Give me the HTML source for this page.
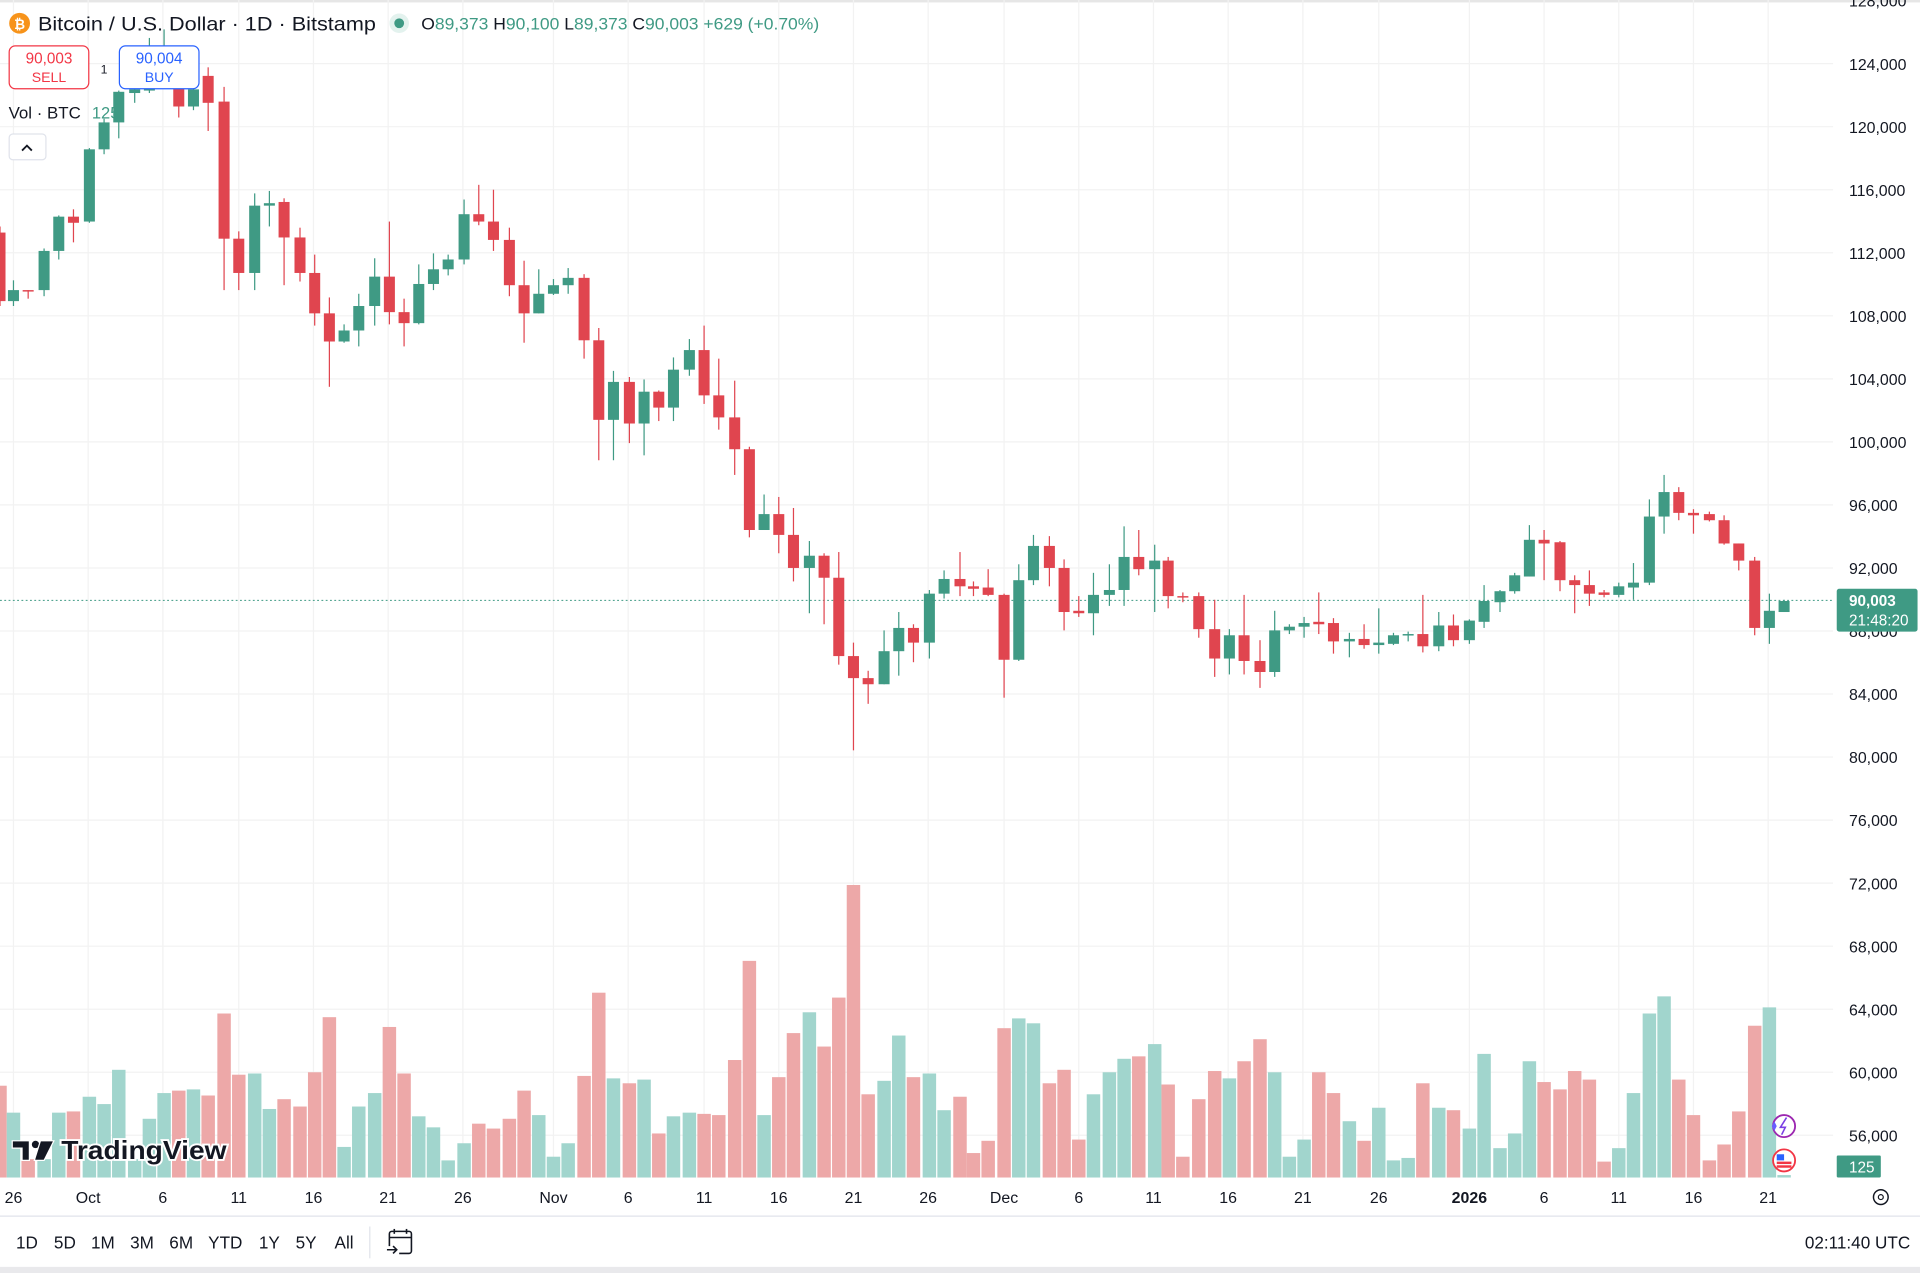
<!DOCTYPE html>
<html><head><meta charset="utf-8">
<style>
html,body{margin:0;padding:0;background:#fff;}
svg{display:block;font-family:"Liberation Sans","DejaVu Sans",sans-serif;}
</style></head>
<body>
<svg id="c" width="1920" height="1273" viewBox="0 0 1568 1040" preserveAspectRatio="none" xmlns="http://www.w3.org/2000/svg">
<rect x="0" y="0" width="1568" height="1040" fill="#fff"/>
<rect x="0" y="0" width="1568" height="2" fill="#e6e6e6"/>
<g id="grid" stroke="#f2f2f2" stroke-width="1"></g>
<g id="vol"></g>
<line x1="0" y1="490.5" x2="1497" y2="490.5" stroke="#3f9a84" stroke-width="0.8" stroke-dasharray="1.5,2"/>
<g id="cand"></g>
<g id="plab" font-size="13" fill="#131722"></g>
<rect x="1500" y="481" width="66" height="35" rx="2" fill="#3f9a84"/>
<text x="1510" y="495" font-size="12.5" font-weight="bold" fill="#fff">90,003</text>
<text x="1510" y="511" font-size="12.5" fill="#fff">21:48:20</text>
<rect x="1500" y="944" width="36" height="18" rx="1" fill="#3f9a84"/>
<text x="1510" y="958" font-size="12.5" fill="#fff">125</text>
<g font-size="13" fill="#131722" text-anchor="middle">
<text x="11" y="983">26</text><text x="72" y="983">Oct</text><text x="133" y="983">6</text><text x="195" y="983">11</text><text x="256" y="983">16</text><text x="317" y="983">21</text><text x="378" y="983">26</text><text x="452" y="983">Nov</text><text x="513" y="983">6</text><text x="575" y="983">11</text><text x="636" y="983">16</text><text x="697" y="983">21</text><text x="758" y="983">26</text><text x="820" y="983">Dec</text><text x="881" y="983">6</text><text x="942" y="983">11</text><text x="1003" y="983">16</text><text x="1064" y="983">21</text><text x="1126" y="983">26</text><text x="1200" y="983" font-weight="bold">2026</text><text x="1261" y="983">6</text><text x="1322" y="983">11</text><text x="1383" y="983">16</text><text x="1444" y="983">21</text>
</g>
<circle cx="1536" cy="978" r="6" fill="none" stroke="#131722" stroke-width="1.2"/>
<circle cx="1536" cy="978" r="2" fill="none" stroke="#131722" stroke-width="1"/>
<line x1="0" y1="993.5" x2="1568" y2="993.5" stroke="#e0e3eb" stroke-width="1"/>
<g font-size="14" fill="#131722" text-anchor="middle">
<text x="22" y="1020">1D</text><text x="53" y="1020">5D</text><text x="84" y="1020">1M</text><text x="116" y="1020">3M</text><text x="148" y="1020">6M</text><text x="184" y="1020">YTD</text><text x="220" y="1020">1Y</text><text x="250" y="1020">5Y</text><text x="281" y="1020">All</text>
</g>
<line x1="302" y1="1002" x2="302" y2="1028" stroke="#e0e3eb"/>
<g fill="none" stroke="#131722" stroke-width="1.3">
<path d="M318 1018 V1008 a2 2 0 0 1 2 -2 H334 a2 2 0 0 1 2 2 V1022 a2 2 0 0 1 -2 2 H326"/>
<line x1="318" y1="1011" x2="336" y2="1011"/><line x1="322" y1="1004" x2="322" y2="1008"/><line x1="332" y1="1004" x2="332" y2="1008"/>
<path d="M316 1021 H324 M321 1018 L324 1021 L321 1024"/>
</g>
<text x="1560" y="1020" font-size="14" fill="#131722" text-anchor="end">02:11:40 UTC</text>
<rect x="0" y="1035" width="1568" height="5" fill="#e9e9ec"/>
<circle cx="16" cy="19" r="8.5" fill="#f7931a"/>
<text x="16" y="23.5" font-size="11" font-weight="bold" fill="#fff" text-anchor="middle">₿</text>
<text x="31" y="25" font-size="16" fill="#131722" textLength="276" lengthAdjust="spacingAndGlyphs">Bitcoin / U.S. Dollar · 1D · Bitstamp</text>
<circle cx="326" cy="19" r="8" fill="#e3f2ee"/><circle cx="326" cy="19" r="4" fill="#3f9a84"/>
<text x="344" y="24" font-size="13.5" fill="#131722" textLength="325" lengthAdjust="spacingAndGlyphs">O<tspan fill="#3f9a84">89,373</tspan> H<tspan fill="#3f9a84">90,100</tspan> L<tspan fill="#3f9a84">89,373</tspan> C<tspan fill="#3f9a84">90,003</tspan> <tspan fill="#3f9a84">+629 (+0.70%)</tspan></text>
<rect x="7.5" y="37.5" width="65" height="35" rx="5" fill="#fff" stroke="#f23645"/>
<text x="40" y="52" font-size="12.5" fill="#f23645" text-anchor="middle">90,003</text>
<text x="40" y="67" font-size="11.5" fill="#f23645" text-anchor="middle">SELL</text>
<text x="85" y="60" font-size="10" fill="#131722" text-anchor="middle">1</text>
<rect x="97.5" y="37.5" width="65" height="35" rx="5" fill="#fff" stroke="#2962ff"/>
<text x="130" y="52" font-size="12.5" fill="#2962ff" text-anchor="middle">90,004</text>
<text x="130" y="67" font-size="11.5" fill="#2962ff" text-anchor="middle">BUY</text>
<text x="7" y="97" font-size="13.5" fill="#131722" textLength="59" lengthAdjust="spacingAndGlyphs">Vol · BTC</text>
<text x="75" y="97" font-size="13.5" fill="#3f9a84">125</text>
<rect x="7.5" y="109.5" width="30" height="21" rx="3" fill="#fff" stroke="#e0e3eb"/>
<path d="M18 123 L22 119 L26 123" fill="none" stroke="#131722" stroke-width="1.5"/>
<g>
<path d="M10 932 H24 V948 H18 V938 H10 Z" fill="#131722" stroke="#fff" stroke-width="1"/>
<circle cx="29" cy="935" r="3" fill="#131722"/>
<path d="M33 932 H44 L36 948 H28 Z" fill="#131722" stroke="#fff" stroke-width="1"/>
<text x="50" y="947" font-size="21" font-weight="bold" fill="#131722" stroke="#fff" stroke-width="3" paint-order="stroke" textLength="135" lengthAdjust="spacingAndGlyphs">TradingView</text>
</g>
<circle cx="1457" cy="920" r="9" fill="#fff" stroke="#9c27b0" stroke-width="1.5"/>
<path d="M1459 913 L1454 921 H1458 L1455 927" fill="none" stroke="#7b3fe4" stroke-width="1.3"/>
<path d="M1447 920 l2 -4 l2 4 l-2 4 z" fill="#6a5cff"/>
<circle cx="1457" cy="948" r="9" fill="#fff" stroke="#f23645" stroke-width="1.5"/>
<rect x="1451" y="943" width="6" height="5" fill="#2962ff"/><rect x="1451" y="949" width="12" height="2" fill="#f23645"/><rect x="1451" y="952" width="12" height="2" fill="#f23645"/>
</svg>
<script>
var NS="http://www.w3.org/2000/svg";
function el(p,t,a){var e=document.createElementNS(NS,t);for(var k in a)e.setAttribute(k,a[k]);p.appendChild(e);return e;}
var grid=document.getElementById('grid');
[11,72,133,195,256,317,378,452,513,575,636,697,758,820,881,942,1003,1064,1126,1200,1261,1322,1383,1444].forEach(function(x){el(grid,'line',{x1:x,y1:0,x2:x,y2:962});});
var pl=document.getElementById('plab');
for(var i=0;i<19;i++){var p=128-4*i;var y=52+(124-p)*12.875;if(y>2)el(grid,'line',{x1:0,y1:y,x2:1497,y2:y});
 var t=el(pl,'text',{x:1510,y:y+5});t.textContent=p+',000';}
var D=[[0,'r',190,246,185,250,887],[11,'g',237,246,229,250,909],[23,'r',237,238,237,244,947],[36,'g',205,237,203,242,947],[48,'g',177,205,176,212,909],[60,'r',177,182,171,198,908],[73,'g',122,181,121,182,896],[85,'g',100,122,97,126,902],[97,'g',75,100,74,113,874],[110,'g',73,76,70,84,947],[122,'g',66,74,31,76,914],[134,'g',45,68,24,72,893],[146,'r',70,87,68,96,891],[158,'g',73,87,72,90,890],[170,'r',62,84,55,107,895],[183,'r',83,195,71,237,828],[195,'r',195,223,189,237,878],[208,'g',168,223,158,237,877],[220,'g',166,168,156,185,906],[232,'r',165,194,162,233,898],[245,'r',194,223,186,230,904],[257,'r',223,256,208,266,876],[269,'r',256,279,243,316,831],[281,'g',270,279,265,280,937],[293,'g',250,270,240,283,904],[306,'g',226,250,211,266,893],[318,'r',226,255,181,265,839],[330,'r',255,264,244,283,877],[342,'g',232,264,216,265,912],[354,'g',220,232,207,237,921],[366,'g',212,220,208,225,948],[379,'g',175,212,163,216,934],[391,'r',175,181,151,184,918],[403,'r',181,196,155,205,922],[416,'r',196,233,186,242,914],[428,'r',233,256,213,280,891],[440,'g',240,256,220,256,911],[452,'g',233,240,228,241,945],[464,'g',227,233,219,240,934],[477,'r',227,278,224,293,879],[489,'r',278,343,268,376,811],[501,'g',312,343,303,376,881],[514,'r',312,346,308,362,885],[526,'g',320,346,310,372,882],[538,'r',320,333,319,344,926],[550,'g',302,333,292,344,912],[563,'g',286,302,277,307,909],[575,'r',286,323,266,330,910],[587,'r',323,341,293,351,911],[600,'r',341,367,311,388,866],[612,'r',367,433,365,439,785],[624,'g',420,433,404,433,911],[636,'r',420,437,406,452,880],[648,'r',437,464,415,475,844],[661,'g',454,464,442,501,827],[673,'r',454,472,452,510,855],[685,'r',472,536,451,543,815],[697,'r',536,554,525,613,723],[709,'r',554,559,548,575,894],[722,'g',532,559,515,559,883],[734,'g',513,532,500,552,846],[746,'r',513,525,510,541,880],[759,'g',485,525,482,538,877],[771,'g',473,485,466,489,907],[784,'r',473,479,451,487,896],[795,'r',479,481,475,487,942],[807,'r',480,486,465,487,932],[820,'r',486,539,485,570,840],[832,'g',474,539,461,540,832],[844,'g',446,474,437,478,836],[857,'r',446,464,438,479,885],[869,'r',464,500,457,515,874],[881,'r',499,501,487,504,931],[893,'g',486,501,468,519,894],[906,'g',482,486,461,495,876],[918,'g',455,482,430,495,865],[930,'r',455,465,433,470,863],[943,'g',458,465,445,500,853],[954,'r',458,487,455,497,886],[966,'r',487,488,484,492,945],[979,'r',487,514,484,521,898],[992,'r',514,538,490,553,875],[1004,'g',519,538,514,551,881],[1016,'r',519,540,486,551,867],[1029,'r',540,549,523,562,849],[1041,'g',515,549,499,553,876],[1053,'g',512,515,510,518,945],[1065,'g',509,512,504,521,931],[1077,'r',508,510,484,518,876],[1089,'r',509,524,505,534,893],[1102,'g',522,524,517,537,916],[1114,'r',522,527,510,530,932],[1126,'g',525,527,497,534,905],[1138,'g',519,526,517,527,948],[1150,'g',518,519,516,524,946],[1162,'r',518,528,486,533,885],[1175,'g',511,528,500,532,905],[1187,'r',511,523,502,528,907],[1200,'g',507,523,506,526,922],[1212,'g',491,508,478,513,861],[1225,'g',483,492,482,500,938],[1237,'g',470,483,468,485,926],[1249,'g',441,471,429,471,867],[1261,'r',441,444,433,474,884],[1274,'r',443,474,442,483,890],[1286,'r',474,478,470,501,875],[1298,'r',478,485,466,495,882],[1310,'r',484,486,482,488,949],[1322,'g',479,486,476,488,938],[1334,'g',476,480,460,490,893],[1347,'g',422,476,408,478,828],[1359,'g',402,422,388,436,814],[1371,'r',402,419,398,425,882],[1383,'r',419,421,416,436,911],[1396,'r',420,425,418,426,948],[1408,'r',425,444,421,445,935],[1420,'r',444,458,444,466,908],[1433,'r',458,513,455,519,838],[1445,'g',499,513,485,526,823],[1457,'g',491,500,490,500,960]];
var cg=document.getElementById('cand'),vg=document.getElementById('vol');
D.forEach(function(d){var x=d[0],g=d[1]=='g',c=g?'#3f9a84':'#e0454f';
 el(vg,'rect',{x:x-5.5,y:d[6],width:11,height:962-d[6],fill:g?'#a1d5cd':'#eda8a8'});
 el(cg,'line',{x1:x,y1:d[4],x2:x,y2:d[5],stroke:c,'stroke-width':1});
 el(cg,'rect',{x:x-4.5,y:d[2],width:9,height:Math.max(1.2,d[3]-d[2]),fill:c});
});
</script>
</body></html>
